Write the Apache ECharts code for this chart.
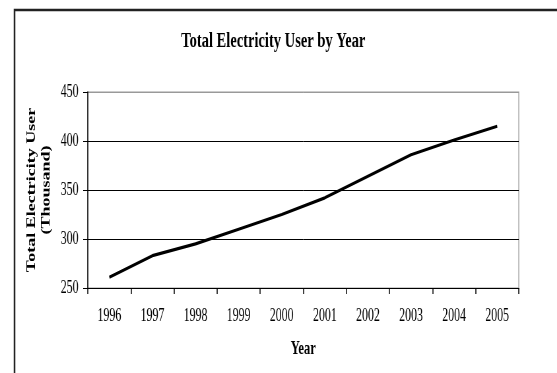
<!DOCTYPE html>
<html>
<head>
<meta charset="utf-8">
<script src="https://cdn.jsdelivr.net/npm/echarts@6/dist/echarts.min.js"></script>
<style>
  html, body { margin: 0; padding: 0; background: #fff; overflow: hidden; }
  #wrap { width: 557px; height: 373px; overflow: hidden; }
  /* the chart is laid out wide and then condensed horizontally */
  #chart { width: 844px; height: 373px; transform: scaleX(0.66); transform-origin: 0 0; }
</style>
</head>
<body>
<div id="wrap"><div id="chart"></div></div>
<script>
const years = ['1996', '1997', '1998', '1999', '2000', '2001', '2002', '2003', '2004', '2005'];
const users = [261, 283, 295, 310, 325, 342, 364, 386, 401, 415];
const yTicks = [250, 300, 350, 400, 450];

const serif = 'Liberation Serif, Times New Roman, serif';
const chart = echarts.init(document.getElementById('chart'), null, { renderer: 'canvas' });

chart.setOption({
  animation: false,
  backgroundColor: '#fff',
  graphic: [{
    type: 'rect',
    shape: { x: 22, y: 10, width: 900, height: 400 },
    style: { fill: 'none', stroke: '#222', lineWidth: 2.5 },
    silent: true
  }],
  title: {
    text: 'Total Electricity User by Year',
    left: 409,
    top: 25,
    textAlign: 'center',
    textStyle: { fontFamily: serif, fontWeight: 'bold', fontSize: 22, color: '#000' }
  },
  grid: {
    left: 133, right: 58, top: 92, bottom: 85,
    show: true, borderColor: '#999', borderWidth: 1.2, backgroundColor: 'transparent'
  },
  xAxis: {
    type: 'category',
    data: years,
    boundaryGap: true,
    name: 'Year',
    nameLocation: 'middle',
    nameGap: 52,
    nameTextStyle: { fontFamily: serif, fontWeight: 'bold', fontSize: 19, color: '#000' },
    axisLine: { lineStyle: { color: '#000', width: 1 } },
    axisTick: { show: true, length: 6, lineStyle: { color: '#000', width: 1.5 } },
    axisLabel: { fontFamily: serif, fontSize: 18, color: '#000', margin: 19, interval: 0 },
    splitLine: { show: false }
  },
  yAxis: {
    type: 'value',
    min: yTicks[0],
    max: yTicks[yTicks.length - 1],
    interval: yTicks[1] - yTicks[0],
    name: 'Total Electricity User\n(Thousand)',
    nameLocation: 'middle',
    nameRotate: 90,
    nameGap: 47,
    nameTextStyle: { fontFamily: serif, fontWeight: 'bold', fontSize: 18, lineHeight: 22, color: '#000', align: 'center' },
    axisLine: { show: true, lineStyle: { color: '#000', width: 1.5 } },
    axisTick: { show: true, length: 7, lineStyle: { color: '#000', width: 1 } },
    axisLabel: { fontFamily: serif, fontSize: 18, color: '#000', margin: 14 },
    splitLine: { show: true, lineStyle: { color: ['#000', '#000', '#000', '#000', '#999'], width: 1 } }
  },
  series: [{
    type: 'line',
    data: users,
    showSymbol: false,
    symbol: 'none',
    lineStyle: { color: '#000', width: 3.2 },
    z: 5
  }]
});
</script>
</body>
</html>
